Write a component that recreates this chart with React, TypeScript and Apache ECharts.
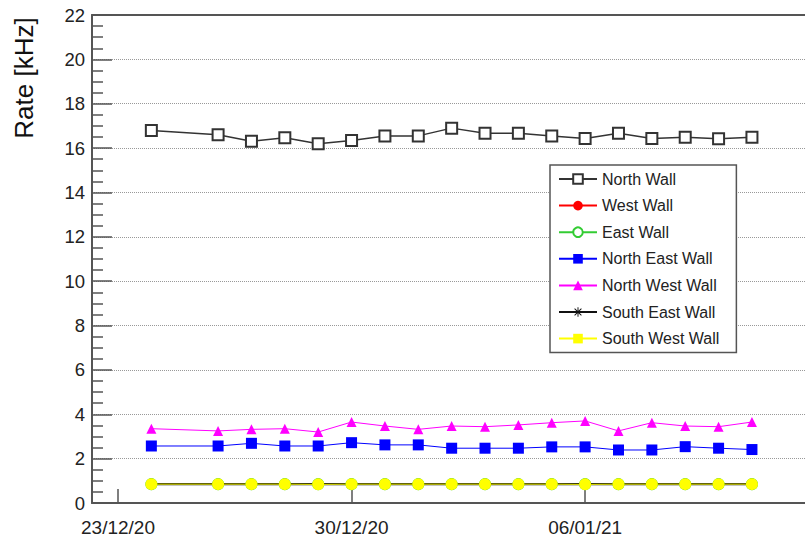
import React, { useEffect, useRef } from "react";
import * as echarts from "echarts";

const dates = [
  "2020-12-24", "2020-12-26", "2020-12-27", "2020-12-28", "2020-12-29", "2020-12-30",
  "2020-12-31", "2021-01-01", "2021-01-02", "2021-01-03", "2021-01-04", "2021-01-05",
  "2021-01-06", "2021-01-07", "2021-01-08", "2021-01-09", "2021-01-10", "2021-01-11",
];
const tickDates = ["2020-12-23", "2020-12-30", "2021-01-06"];

const northWall = [16.79, 16.6, 16.31, 16.47, 16.2, 16.34, 16.55, 16.55, 16.9, 16.67, 16.67, 16.55, 16.43, 16.67, 16.43, 16.49, 16.42, 16.49];
const westWall = [0.85, 0.85, 0.85, 0.85, 0.85, 0.85, 0.85, 0.85, 0.85, 0.85, 0.85, 0.85, 0.85, 0.85, 0.85, 0.85, 0.85, 0.85];
const eastWall = [0.85, 0.85, 0.85, 0.85, 0.85, 0.85, 0.85, 0.85, 0.85, 0.85, 0.85, 0.85, 0.85, 0.85, 0.85, 0.85, 0.85, 0.85];
const northEastWall = [2.57, 2.57, 2.69, 2.57, 2.57, 2.72, 2.62, 2.62, 2.47, 2.47, 2.47, 2.53, 2.53, 2.39, 2.39, 2.54, 2.47, 2.41];
const northWestWall = [3.35, 3.25, 3.32, 3.35, 3.2, 3.65, 3.47, 3.32, 3.47, 3.44, 3.52, 3.62, 3.7, 3.25, 3.62, 3.47, 3.44, 3.65];
const southEastWall = [0.85, 0.85, 0.85, 0.85, 0.85, 0.85, 0.85, 0.85, 0.85, 0.85, 0.85, 0.85, 0.85, 0.85, 0.85, 0.85, 0.85, 0.85];
const southWestWall = [0.85, 0.85, 0.85, 0.85, 0.84, 0.85, 0.85, 0.85, 0.85, 0.85, 0.85, 0.85, 0.84, 0.85, 0.85, 0.85, 0.85, 0.85];

const DAY = 86400000;
const toMs = (s: string) => {
  const [y, m, d] = s.split("-").map(Number);
  return Date.UTC(y, m - 1, d);
};
const fmt = (v: number) => {
  const d = new Date(v);
  const dd = String(d.getUTCDate()).padStart(2, "0");
  const mm = String(d.getUTCMonth() + 1).padStart(2, "0");
  const yy = String(d.getUTCFullYear() % 100).padStart(2, "0");
  return `${dd}/${mm}/${yy}`;
};

const STAR =
  "path://M9,0L11,0L11,20L9,20Z M0,9L20,9L20,11L0,11Z M2.2,3.6L3.6,2.2L17.8,16.4L16.4,17.8Z M16.4,2.2L17.8,3.6L3.6,17.8L2.2,16.4Z";

export default function App() {
  const ref = useRef<HTMLDivElement>(null);
  useEffect(() => {
    if (!ref.current) return;
    const chart = echarts.init(ref.current, undefined, { renderer: "svg" });
    const x0 = toMs(tickDates[0]);
    const xMin = x0 - 0.779 * DAY;
    const xMax = x0 + 20.59 * DAY;
    const xs = dates.map(toMs);
    const pair = (arr: number[]) => arr.map((v, i) => [xs[i], v]);
    const font = "Liberation Sans, Arial, sans-serif";
    const axisColor = "#555";

    const mk = (
      name: string,
      arr: number[],
      color: string,
      symbol: string,
      size: number,
      lineWidth: number,
      extra: any = {}
    ) => ({
      name,
      type: "line",
      data: pair(arr),
      symbol,
      symbolSize: size,
      showSymbol: true,
      lineStyle: { color, width: lineWidth },
      itemStyle: { color, borderColor: color, borderWidth: symbol.startsWith("empty") ? 1.5 : 0 },
      emphasis: { disabled: true },
      z: 3,
      ...extra,
    });

    chart.setOption({
      animation: false,
      textStyle: { fontFamily: font },
      grid: { left: 92, right: 0, top: 15, bottom: 36 },
      legend: {
        orient: "vertical",
        left: 550,
        top: 165,
        itemWidth: 38,
        itemHeight: 12,
        itemGap: 10.6,
        padding: [6, 17, 6, 8],
        borderColor: "#555",
        borderWidth: 1.5,
        backgroundColor: "#fff",
        selectedMode: false,
        textStyle: { fontSize: 16, color: "#222", fontFamily: font },
        data: ["North Wall", "West Wall", "East Wall", "North East Wall", "North West Wall", "South East Wall", "South West Wall"],
      },
      xAxis: [
        {
          type: "value",
          min: xMin,
          max: xMax,
          axisLine: { show: true, lineStyle: { color: axisColor, width: 2 } },
          axisTick: {
            show: true,
            inside: true,
            length: 14,
            customValues: tickDates.map(toMs),
            lineStyle: { color: axisColor, width: 1.5 },
          },
          axisLabel: {
            customValues: tickDates.map(toMs),
            formatter: (v: number) => fmt(v),
            fontSize: 19,
            color: "#222",
            margin: 15,
          },
          splitLine: { show: false },
        },
        {
          type: "value",
          position: "top",
          min: xMin,
          max: xMax,
          axisLine: { show: true, lineStyle: { color: axisColor, width: 2 } },
          axisTick: { show: false },
          axisLabel: { show: false },
          splitLine: { show: false },
        },
      ],
      yAxis: {
        type: "value",
        min: 0,
        max: 22,
        interval: 2,
        axisLine: { show: true, lineStyle: { color: axisColor, width: 2 } },
        axisTick: { show: true, inside: true, length: 20, lineStyle: { color: axisColor, width: 1.5 } },
        minorTick: { show: true, splitNumber: 4, length: 11, lineStyle: { color: axisColor, width: 1.5 } },
        axisLabel: { fontSize: 18.5, color: "#222", margin: 7 },
        splitLine: { show: true, lineStyle: { color: "#999", type: "dotted", width: 1 } },
      },
      graphic: [
        {
          type: "text",
          x: 24,
          y: 78,
          rotation: Math.PI / 2,
          style: {
            text: "Rate [kHz]",
            fontSize: 26,
            fill: "#111",
            fontFamily: font,
            align: "center",
            verticalAlign: "middle",
          },
        },
      ],
      series: [
        mk("North Wall", northWall, "#333333", "emptyRect", 11, 1.5),
        mk("West Wall", westWall, "#ff0000", "circle", 10, 1),
        mk("East Wall", eastWall, "#33cc33", "emptyCircle", 10, 1),
        mk("North East Wall", northEastWall, "#0000ff", "rect", 11, 1),
        mk("North West Wall", northWestWall, "#ff00ff", "triangle", 10, 1),
        mk("South East Wall", southEastWall, "#111111", STAR, 10, 2.2),
        {
          ...mk("South West Wall", southWestWall, "#ffff00", "rect", 11, 1),
          data: pair(southWestWall).map((p) => ({ value: p, symbol: "circle", symbolSize: 12 })),
        },
      ],
    });
    return () => chart.dispose();
  }, []);
  return (
    <div
      ref={ref}
      style={{ position: "fixed", left: 0, top: 0, width: 805, height: 539, background: "#fff" }}
    />
  );
}
